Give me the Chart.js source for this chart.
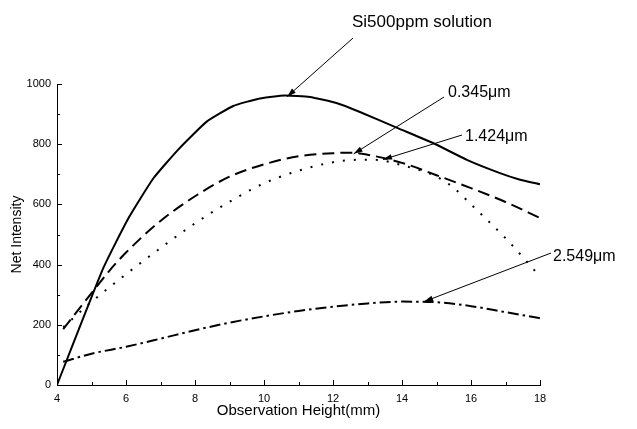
<!DOCTYPE html>
<html>
<head>
<meta charset="utf-8">
<script src="https://cdn.jsdelivr.net/npm/chart.js@4"></script>
<style>
  html, body { margin: 0; padding: 0; background: #fff; }
  #wrap { width: 637px; height: 429px; }
</style>
</head>
<body>
<div id="wrap"><canvas id="c" width="637" height="429"></canvas></div>
<script>
// ── data
const xSolid   = [4, 5.34, 6.07, 6.79, 7.52, 8.34, 9.11, 9.88, 10.6, 11.33, 12.1, 12.78, 13.86, 14.9, 15.88, 16.84, 17.4, 18];
const ySolid   = [0, 388, 554, 686, 783, 875, 927, 952, 962, 957, 937, 907, 854, 804, 748, 704, 683, 667];

const xDash    = [4.18, 5, 5.5, 6, 7, 8, 9, 10, 11, 12, 12.5, 13, 14, 15, 16, 17, 18];
const yDash    = [186, 305, 377, 440, 545, 627, 692, 733, 760, 770, 772, 765, 738, 697, 654, 608, 555];

const xDot     = [4.18, 5, 6, 7, 8, 9, 10, 11, 12, 12.7, 13.2, 14, 15, 15.5, 16, 17, 17.5, 18];
const yDot     = [192, 276, 368, 455, 537, 609, 670, 712, 740, 748, 748, 730, 692, 655, 600, 488, 425, 360];

const xDashDot = [4.18, 5, 6, 7, 8, 9, 10, 11, 12, 13, 14, 15, 16, 17, 18];
const yDashDot = [77, 104, 127, 154, 182, 207, 228, 246, 260, 271, 277, 275, 262, 242, 222];

const seriesNames = ['Si500ppm solution', '0.345\u03bcm', '1.424\u03bcm', '2.549\u03bcm'];

// label text position (px) and arrow tip (data coords)
const notes = [
    { text: seriesNames[0], tx: 352, ty: 22,  ax: 353, ay: 38,  px: 10.67, py: 958 },
    { text: seriesNames[1], tx: 448, ty: 93,  ax: 444, ay: 97,  px: 12.6,  py: 768 },
    { text: seriesNames[2], tx: 465, ty: 137, ax: 462, ay: 135, px: 13.45, py: 749 },
    { text: seriesNames[3], tx: 553, ty: 257, ax: 551, ay: 253, px: 14.64, py: 277 }
];

const FONT = "'Liberation Sans', Arial, sans-serif";

function pts(xs, ys) {
    return xs.map(function(x, i) { return { x: x, y: ys[i] }; });
}

function lineSet(label, data, dash, width, smooth) {
    var ds = {
        label: label, data: data,
        borderColor: '#000', backgroundColor: '#000',
        borderWidth: width, borderDash: dash,
        pointRadius: 0, fill: false
    };
    if (smooth) ds.cubicInterpolationMode = 'monotone';
    else ds.tension = 0.15;
    return ds;
}

// inward ticks + arrows/labels
const decor = {
    id: 'decor',
    afterDraw: function(chart) {
        var ctx = chart.ctx, xs = chart.scales.x, ys = chart.scales.y, a = chart.chartArea;
        ctx.save();
        ctx.strokeStyle = '#000';
        ctx.lineWidth = 1;
        ctx.beginPath();
        xs.ticks.forEach(function(t) {
            var px = Math.round(xs.getPixelForValue(t.value)) + 0.5;
            var len = t.value % 2 === 0 ? 5 : 3;
            ctx.moveTo(px, a.bottom); ctx.lineTo(px, a.bottom - len);
        });
        ys.ticks.forEach(function(t) {
            var py = Math.round(ys.getPixelForValue(t.value)) + 0.5;
            var len = t.value % 200 === 0 ? 5 : 3;
            ctx.moveTo(a.left, py); ctx.lineTo(a.left + len, py);
        });
        ctx.stroke();

        ctx.fillStyle = '#000';
        ctx.textBaseline = 'middle';
        ctx.textAlign = 'left';
        notes.forEach(function(n, i) {
            ctx.font = (i === 0 ? '17px ' : '16px ') + FONT;
            ctx.fillText(n.text, n.tx, n.ty);
            var tx = xs.getPixelForValue(n.px), ty = ys.getPixelForValue(n.py);
            ctx.beginPath();
            ctx.moveTo(n.ax, n.ay); ctx.lineTo(tx, ty);
            ctx.lineWidth = 1;
            ctx.stroke();
            var ang = Math.atan2(ty - n.ay, tx - n.ax), hl = 9, hw = 2.8;
            ctx.beginPath();
            ctx.moveTo(tx, ty);
            ctx.lineTo(tx - hl * Math.cos(ang) + hw * Math.sin(ang), ty - hl * Math.sin(ang) - hw * Math.cos(ang));
            ctx.lineTo(tx - hl * Math.cos(ang) - hw * Math.sin(ang), ty - hl * Math.sin(ang) + hw * Math.cos(ang));
            ctx.closePath();
            ctx.fill();
        });
        ctx.restore();
    }
};

new Chart(document.getElementById('c').getContext('2d'), {
    type: 'line',
    data: {
        datasets: [
            lineSet(seriesNames[0], pts(xSolid, ySolid), [], 2, false),
            lineSet(seriesNames[1], pts(xDash, yDash), [12, 6], 2, true),
            lineSet(seriesNames[2], pts(xDot, yDot), [2, 9], 2, true),
            lineSet(seriesNames[3], pts(xDashDot, yDashDot), [11, 4, 2.5, 4], 2, true)
        ]
    },
    options: {
        responsive: false,
        animation: false,
        devicePixelRatio: 1,
        layout: { padding: { top: 84, right: 97, left: 0, bottom: 0 } },
        plugins: { legend: { display: false }, tooltip: { enabled: false } },
        scales: {
            x: {
                type: 'linear', min: 4, max: 18,
                afterFit: function(s) { s.height = 44; },
                grid: { display: false, drawTicks: false },
                border: { display: true, color: '#000', width: 1 },
                ticks: {
                    stepSize: 1, autoSkip: false, maxRotation: 0, padding: 7,
                    color: '#000', font: { family: FONT, size: 11 },
                    callback: function(v) { return v % 2 === 0 ? v : ''; }
                },
                title: {
                    display: true, text: 'Observation Height(mm)', color: '#000',
                    font: { family: FONT, size: 15 }, padding: { top: 0, bottom: 9 }
                }
            },
            y: {
                min: 0, max: 1000,
                afterFit: function(s) { s.width = 57; },
                grid: { display: false, drawTicks: false },
                border: { display: true, color: '#000', width: 1 },
                ticks: {
                    stepSize: 100, autoSkip: false, padding: 6,
                    color: '#000', font: { family: FONT, size: 11 },
                    callback: function(v) { return v % 200 === 0 ? v : ''; }
                },
                title: {
                    display: true, text: 'Net Intensity', color: '#000',
                    font: { family: FONT, size: 14 }, padding: { top: 9, bottom: 0 }
                }
            }
        }
    },
    plugins: [decor]
});
</script>
</body>
</html>
